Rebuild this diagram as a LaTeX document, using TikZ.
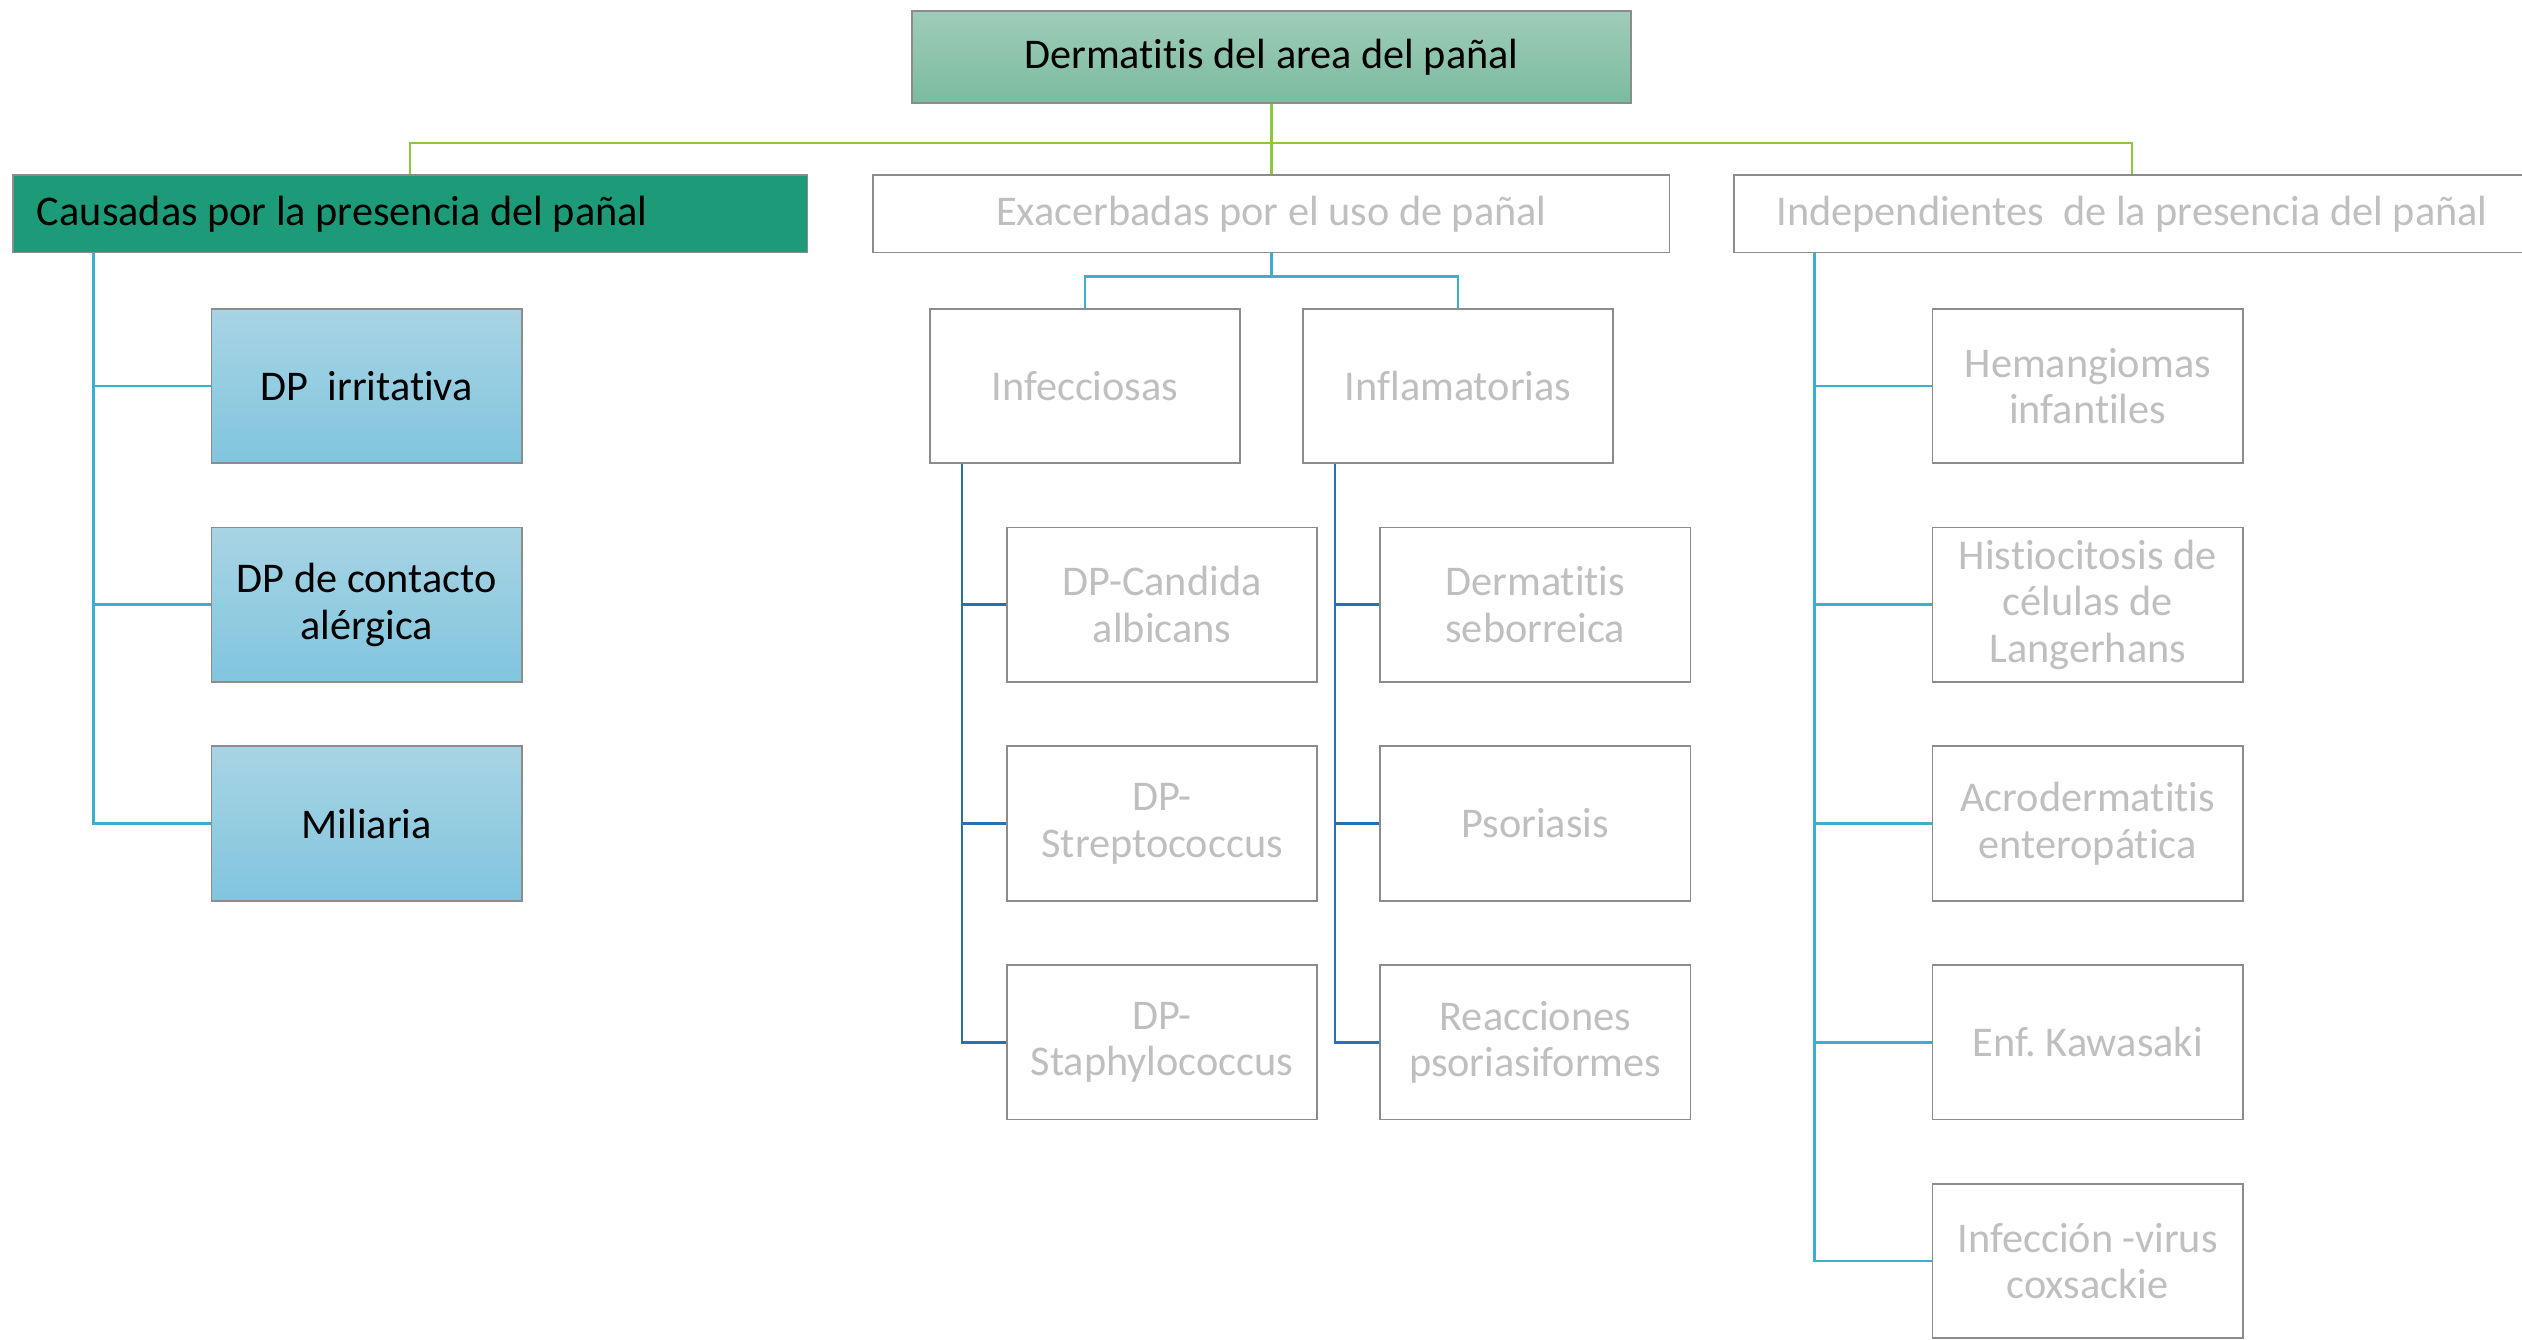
\documentclass[tikz,border=0pt]{standalone}
\usepackage{fontspec}
\setmainfont{Carlito}[RawFeature={-liga;-clig;-calt;-dlig}]
\frenchspacing
\definecolor{rootTop}{HTML}{9FCCB9}
\definecolor{rootBot}{HTML}{7BBB9F}
\definecolor{causFill}{HTML}{1D9A78}
\definecolor{dpTop}{HTML}{A8D4E4}
\definecolor{dpBot}{HTML}{80C5DE}
\definecolor{boxLine}{HTML}{8C8C8C}
\definecolor{grayText}{HTML}{BFBFBF}
\definecolor{greenLine}{HTML}{8DC63F}
\definecolor{lightBlue}{HTML}{3BAFD2}
\definecolor{darkBlue}{HTML}{2870B0}
\tikzset{
  basebox/.style={draw=boxLine, line width=1.1pt, inner sep=0pt, align=center,
    font=\fontsize{26.3}{29}\selectfont},
  rootbox/.style={basebox, top color=rootTop, bottom color=rootBot, text=black,
    minimum width=447, minimum height=57},
  causbox/.style={basebox, fill=causFill, text=black, minimum width=494,
    minimum height=48, inner xsep=15pt},
  levbox/.style={basebox, fill=white, text=grayText, minimum width=495, minimum height=48},
  dpbox/.style={basebox, top color=dpTop, bottom color=dpBot, text=black,
    minimum width=193, minimum height=96},
  leafbox/.style={basebox, fill=white, text=grayText, minimum width=193, minimum height=96},
  gline/.style={draw=greenLine, line width=1.6pt},
  lbline/.style={draw=lightBlue, line width=1.6pt},
  dbline/.style={draw=darkBlue, line width=1.6pt},
}
\begin{document}
\begin{tikzpicture}[x=1pt,y=-1pt]
\useasboundingbox (0,0) rectangle (1568,832.5);
\fill[white] (0,0) rectangle (1568,832.5);

% coordinates for bars
\coordinate (gbar) at (0,89);
\coordinate (bbar) at (0,172);
\coordinate (cl) at (58,0);
\coordinate (il) at (598,0);
\coordinate (fl) at (830,0);
\coordinate (dl) at (1128,0);

% root and level 1
\node[rootbox] (root) at (790.5,35.5) {Dermatitis del area del pañal};
\node[causbox] (caus) at (255,133) {\hbox to 464pt{Causadas por la presencia del pañal\hfil}};
\node[levbox] (exac) at (790.5,133) {Exacerbadas por el uso de pañal};
\node[levbox] (inde) at (1325.5,133) {Independientes~ de la presencia del pañal};

% level 2 (middle)
\node[leafbox] (infe) at (674.5,240) {Infecciosas};
\node[leafbox] (infl) at (906.5,240) {Inflamatorias};

% left column
\node[dpbox] (irr) at (228,240) {DP~ irritativa};
\node[dpbox] (con) at (228,376) {DP de contacto\\alérgica};
\node[dpbox] (mil) at (228,512) {Miliaria};

% infecciosas children
\node[leafbox] (can) at (722.5,376) {DP-Candida\\albicans};
\node[leafbox] (str) at (722.5,512) {DP-\\Streptococcus};
\node[leafbox] (sta) at (722.5,648) {DP-\\Staphylococcus};

% inflamatorias children
\node[leafbox] (seb) at (954.5,376) {Dermatitis\\seborreica};
\node[leafbox] (pso) at (954.5,512) {Psoriasis};
\node[leafbox] (rea) at (954.5,648) {Reacciones\\psoriasiformes};

% independientes children
\node[leafbox] (hem) at (1298,240) {Hemangiomas\\infantiles};
\node[leafbox] (his) at (1298,376) {Histiocitosis de\\células de\\Langerhans};
\node[leafbox] (acr) at (1298,512) {Acrodermatitis\\enteropática};
\node[leafbox] (kaw) at (1298,648) {Enf. Kawasaki};
\node[leafbox] (cox) at (1298,784) {Infección -virus\\coxsackie};

% green connectors
\draw[gline] (root.south) -- (root.south |- gbar) -| (caus.north);
\draw[gline] (root.south |- gbar) -| (inde.north);
\draw[gline] (root.south |- gbar) -- (exac.north);

% blue connectors under Exacerbadas
\draw[lbline] (exac.south) -- (exac.south |- bbar) -| (infe.north);
\draw[lbline] (exac.south |- bbar) -| (infl.north);

% left column connectors
\draw[lbline] (caus.south -| cl) -- (cl |- mil.west) -- (mil.west);
\draw[lbline] (cl |- irr.west) -- (irr.west);
\draw[lbline] (cl |- con.west) -- (con.west);

% infecciosas connectors
\draw[dbline] (infe.south -| il) -- (il |- sta.west) -- (sta.west);
\draw[dbline] (il |- can.west) -- (can.west);
\draw[dbline] (il |- str.west) -- (str.west);

% inflamatorias connectors
\draw[dbline] (infl.south -| fl) -- (fl |- rea.west) -- (rea.west);
\draw[dbline] (fl |- seb.west) -- (seb.west);
\draw[dbline] (fl |- pso.west) -- (pso.west);

% independientes connectors
\draw[lbline] (inde.south -| dl) -- (dl |- cox.west) -- (cox.west);
\draw[lbline] (dl |- hem.west) -- (hem.west);
\draw[lbline] (dl |- his.west) -- (his.west);
\draw[lbline] (dl |- acr.west) -- (acr.west);
\draw[lbline] (dl |- kaw.west) -- (kaw.west);
\end{tikzpicture}
\end{document}
